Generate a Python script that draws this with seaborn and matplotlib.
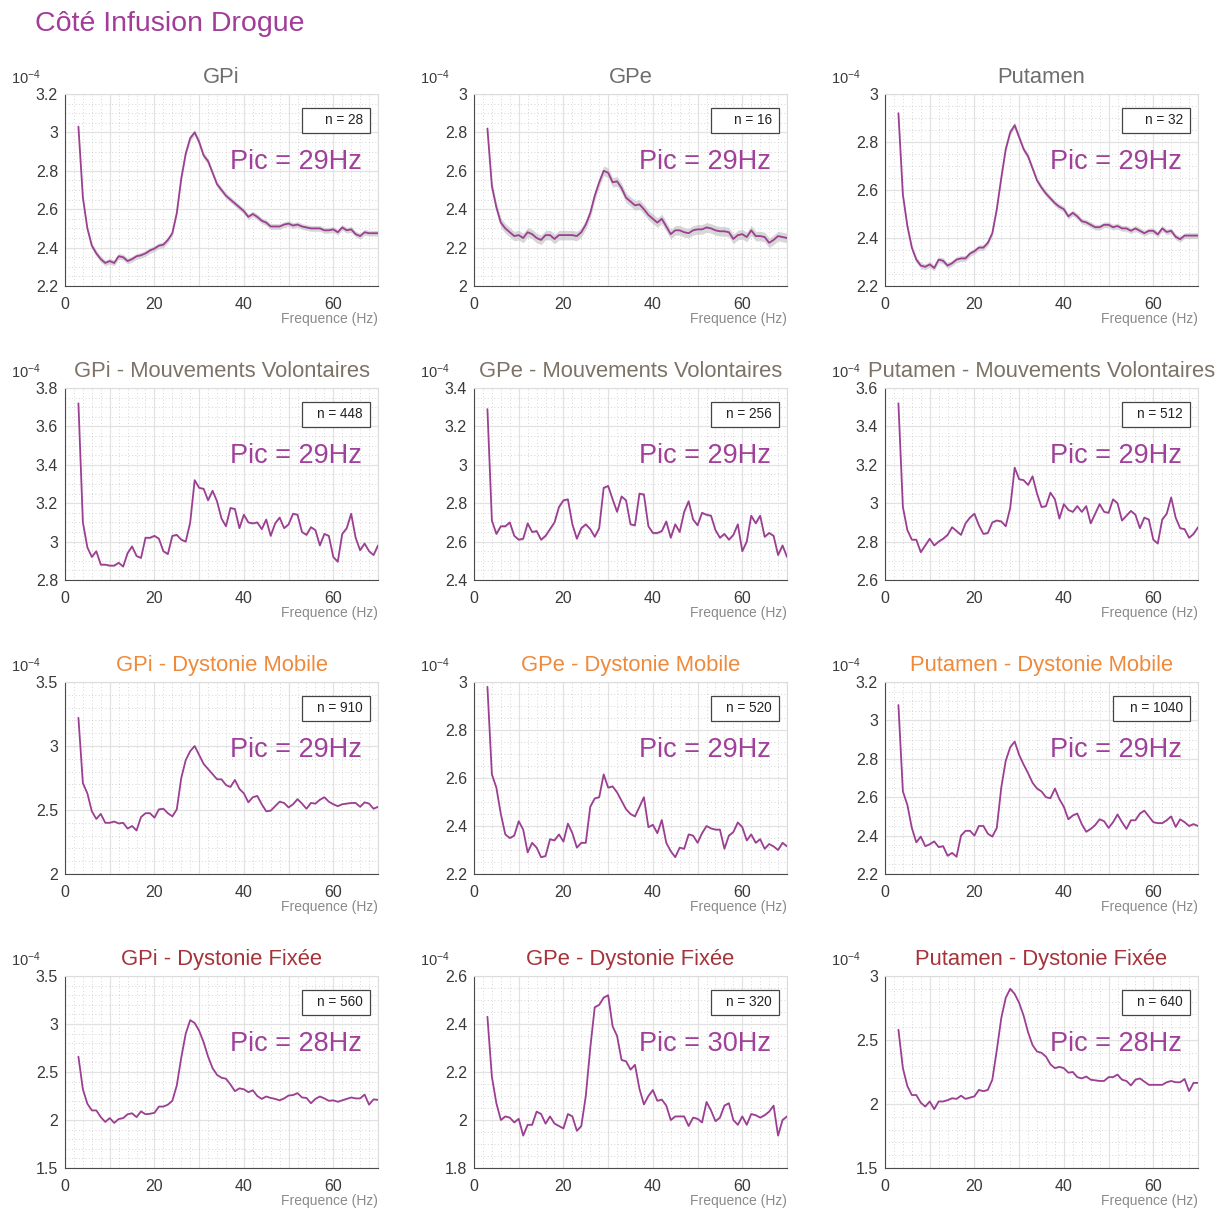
import matplotlib
matplotlib.use("Agg")
import matplotlib.pyplot as plt
import seaborn as sns
import numpy as np
import pandas as pd
from matplotlib.ticker import MultipleLocator, AutoMinorLocator, FuncFormatter
from matplotlib.patches import Rectangle

# ---------------- DATA ----------------
freqs = list(range(3, 71))

gpi = [3.03, 2.66, 2.50, 2.41, 2.37, 2.34, 2.32, 2.33, 2.32, 2.355, 2.35, 2.33, 2.34, 2.355, 2.36, 2.37,
       2.385, 2.395, 2.41, 2.415, 2.44, 2.475, 2.58, 2.76, 2.89, 2.97, 3.00, 2.95, 2.88, 2.85, 2.79, 2.73,
       2.70, 2.67, 2.65, 2.63, 2.61, 2.59, 2.56, 2.575, 2.56, 2.54, 2.53, 2.51, 2.51, 2.51, 2.52, 2.525,
       2.515, 2.52, 2.51, 2.505, 2.50, 2.50, 2.50, 2.49, 2.49, 2.495, 2.48, 2.505, 2.49, 2.495, 2.47, 2.46,
       2.48, 2.475, 2.475, 2.475]
gpe = [2.82, 2.52, 2.41, 2.33, 2.30, 2.28, 2.26, 2.265, 2.25, 2.28, 2.27, 2.25, 2.24, 2.265, 2.265, 2.245,
       2.265, 2.265, 2.265, 2.265, 2.26, 2.28, 2.32, 2.38, 2.47, 2.54, 2.60, 2.59, 2.54, 2.545, 2.51, 2.46,
       2.44, 2.42, 2.425, 2.40, 2.37, 2.35, 2.33, 2.35, 2.31, 2.27, 2.29, 2.29, 2.28, 2.275, 2.29, 2.295,
       2.295, 2.305, 2.30, 2.29, 2.285, 2.285, 2.28, 2.245, 2.265, 2.27, 2.255, 2.29, 2.26, 2.26, 2.255, 2.225,
       2.24, 2.26, 2.255, 2.25]
put = [2.92, 2.58, 2.45, 2.36, 2.31, 2.285, 2.28, 2.29, 2.275, 2.31, 2.305, 2.285, 2.295, 2.31, 2.315, 2.315,
       2.335, 2.345, 2.36, 2.36, 2.38, 2.42, 2.52, 2.65, 2.77, 2.84, 2.87, 2.82, 2.77, 2.74, 2.69, 2.64,
       2.61, 2.585, 2.565, 2.545, 2.53, 2.52, 2.49, 2.505, 2.49, 2.47, 2.465, 2.455, 2.445, 2.445, 2.455, 2.455,
       2.445, 2.45, 2.44, 2.44, 2.43, 2.44, 2.43, 2.42, 2.43, 2.43, 2.415, 2.44, 2.425, 2.43, 2.405, 2.395,
       2.41, 2.41, 2.41, 2.41]
gpi_mv = [3.72, 3.10, 2.97, 2.92, 2.95, 2.88, 2.88, 2.875, 2.875, 2.89, 2.87, 2.94, 2.975, 2.925, 2.915, 3.02,
          3.02, 3.03, 3.015, 2.95, 2.935, 3.03, 3.035, 3.01, 3.00, 3.10, 3.32, 3.28, 3.275, 3.215, 3.265, 3.21,
          3.12, 3.08, 3.175, 3.17, 3.07, 3.14, 3.10, 3.095, 3.10, 3.065, 3.115, 3.03, 3.095, 3.125, 3.07, 3.09,
          3.145, 3.14, 3.05, 3.035, 3.075, 3.06, 2.98, 3.04, 3.03, 2.92, 2.895, 3.04, 3.07, 3.145, 3.02, 2.955,
          2.99, 2.95, 2.93, 2.98]
gpe_mv = [3.29, 2.71, 2.64, 2.68, 2.68, 2.70, 2.63, 2.61, 2.615, 2.695, 2.65, 2.655, 2.61, 2.63, 2.665, 2.70,
          2.78, 2.815, 2.82, 2.69, 2.615, 2.67, 2.69, 2.665, 2.625, 2.67, 2.88, 2.89, 2.82, 2.755, 2.835, 2.815,
          2.69, 2.685, 2.85, 2.845, 2.68, 2.645, 2.645, 2.655, 2.705, 2.62, 2.69, 2.65, 2.755, 2.81, 2.715, 2.685,
          2.75, 2.74, 2.735, 2.66, 2.62, 2.64, 2.61, 2.635, 2.69, 2.55, 2.60, 2.735, 2.695, 2.735, 2.625, 2.645,
          2.63, 2.53, 2.58, 2.52]
put_mv = [3.52, 2.98, 2.86, 2.81, 2.81, 2.745, 2.78, 2.815, 2.78, 2.80, 2.815, 2.835, 2.875, 2.855, 2.835, 2.895,
          2.925, 2.945, 2.885, 2.84, 2.845, 2.90, 2.91, 2.905, 2.88, 2.975, 3.185, 3.125, 3.12, 3.095, 3.14, 3.05,
          2.98, 2.985, 3.055, 3.02, 2.92, 2.995, 2.965, 2.955, 2.985, 2.955, 2.985, 2.895, 2.945, 2.995, 2.955, 2.95,
          3.02, 3.00, 2.91, 2.935, 2.96, 2.94, 2.87, 2.925, 2.915, 2.81, 2.79, 2.915, 2.945, 3.03, 2.925, 2.87,
          2.865, 2.82, 2.84, 2.875]
gpi_dm = [3.22, 2.71, 2.63, 2.49, 2.43, 2.47, 2.40, 2.40, 2.41, 2.395, 2.40, 2.355, 2.375, 2.34, 2.445, 2.475,
          2.475, 2.44, 2.505, 2.51, 2.475, 2.45, 2.505, 2.75, 2.89, 2.96, 3.00, 2.93, 2.86, 2.82, 2.78, 2.74,
          2.74, 2.695, 2.68, 2.735, 2.665, 2.63, 2.56, 2.60, 2.61, 2.545, 2.49, 2.495, 2.53, 2.565, 2.555, 2.52,
          2.545, 2.585, 2.55, 2.51, 2.555, 2.55, 2.58, 2.60, 2.565, 2.545, 2.53, 2.545, 2.55, 2.555, 2.555, 2.525,
          2.56, 2.55, 2.51, 2.525]
gpe_dm = [2.98, 2.615, 2.56, 2.45, 2.365, 2.35, 2.36, 2.42, 2.385, 2.29, 2.33, 2.31, 2.27, 2.275, 2.345, 2.34,
          2.365, 2.335, 2.41, 2.37, 2.31, 2.33, 2.33, 2.48, 2.515, 2.52, 2.615, 2.56, 2.565, 2.54, 2.505, 2.47,
          2.45, 2.44, 2.48, 2.52, 2.395, 2.405, 2.37, 2.425, 2.33, 2.295, 2.27, 2.31, 2.305, 2.365, 2.36, 2.33,
          2.37, 2.40, 2.39, 2.385, 2.385, 2.305, 2.36, 2.375, 2.415, 2.395, 2.34, 2.365, 2.33, 2.345, 2.305, 2.325,
          2.315, 2.30, 2.33, 2.315]
put_dm = [3.08, 2.63, 2.56, 2.44, 2.365, 2.395, 2.345, 2.355, 2.37, 2.34, 2.345, 2.295, 2.31, 2.29, 2.40, 2.425,
          2.425, 2.40, 2.45, 2.45, 2.41, 2.395, 2.44, 2.65, 2.79, 2.86, 2.89, 2.82, 2.77, 2.725, 2.675, 2.645,
          2.63, 2.60, 2.595, 2.645, 2.59, 2.55, 2.485, 2.505, 2.515, 2.46, 2.42, 2.435, 2.455, 2.485, 2.475, 2.44,
          2.47, 2.51, 2.47, 2.435, 2.48, 2.48, 2.515, 2.53, 2.50, 2.47, 2.465, 2.465, 2.48, 2.50, 2.445, 2.485,
          2.47, 2.45, 2.46, 2.45]
gpi_df = [2.66, 2.32, 2.17, 2.10, 2.10, 2.03, 1.98, 2.02, 1.97, 2.01, 2.02, 2.06, 2.07, 2.03, 2.09, 2.06,
          2.065, 2.075, 2.14, 2.14, 2.16, 2.20, 2.36, 2.65, 2.90, 3.04, 3.01, 2.93, 2.81, 2.66, 2.54, 2.47,
          2.44, 2.43, 2.37, 2.30, 2.33, 2.32, 2.29, 2.31, 2.25, 2.22, 2.245, 2.23, 2.22, 2.205, 2.225, 2.255,
          2.26, 2.28, 2.235, 2.23, 2.175, 2.22, 2.245, 2.225, 2.20, 2.205, 2.19, 2.205, 2.22, 2.235, 2.225, 2.225,
          2.265, 2.16, 2.215, 2.21]
gpe_df = [2.43, 2.18, 2.07, 2.00, 2.015, 2.01, 1.99, 2.005, 1.935, 1.98, 1.98, 2.035, 2.025, 1.985, 2.015, 1.985,
          1.975, 1.965, 2.025, 2.015, 1.955, 1.975, 2.10, 2.30, 2.47, 2.48, 2.51, 2.52, 2.39, 2.35, 2.25, 2.245,
          2.21, 2.23, 2.13, 2.065, 2.10, 2.125, 2.08, 2.085, 2.06, 2.00, 2.015, 2.015, 2.015, 1.975, 2.01, 2.005,
          1.99, 2.075, 2.04, 1.995, 2.01, 2.06, 2.07, 2.00, 1.98, 2.015, 1.98, 2.025, 2.02, 2.01, 2.02, 2.035,
          2.06, 1.935, 2.00, 2.015]
put_df = [2.58, 2.28, 2.14, 2.07, 2.07, 2.01, 1.98, 2.02, 1.96, 2.02, 2.02, 2.03, 2.045, 2.04, 2.065, 2.04,
          2.05, 2.06, 2.11, 2.10, 2.11, 2.19, 2.42, 2.67, 2.83, 2.90, 2.86, 2.79, 2.69, 2.56, 2.46, 2.41,
          2.40, 2.37, 2.31, 2.28, 2.29, 2.28, 2.245, 2.25, 2.21, 2.20, 2.215, 2.19, 2.185, 2.18, 2.18, 2.21,
          2.21, 2.23, 2.19, 2.18, 2.145, 2.19, 2.20, 2.175, 2.15, 2.15, 2.15, 2.15, 2.17, 2.18, 2.17, 2.17,
          2.195, 2.10, 2.165, 2.165]

series = [gpi, gpe, put, gpi_mv, gpe_mv, put_mv, gpi_dm, gpe_dm, put_dm, gpi_df, gpe_df, put_df]
sem = [0.015, 0.025, 0.012, 0.005, 0.006, 0.004, 0.003, 0.003, 0.003, 0.003, 0.003, 0.003]

titles = ["GPi", "GPe", "Putamen",
          "GPi - Mouvements Volontaires", "GPe - Mouvements Volontaires", "Putamen - Mouvements Volontaires",
          "GPi - Dystonie Mobile", "GPe - Dystonie Mobile", "Putamen - Dystonie Mobile",
          "GPi - Dystonie Fixée", "GPe - Dystonie Fixée", "Putamen - Dystonie Fixée"]
n_labels = ["n = 28", "n = 16", "n = 32", "n = 448", "n = 256", "n = 512",
            "n = 910", "n = 520", "n = 1040", "n = 560", "n = 320", "n = 640"]
pic_labels = ["Pic = 29Hz"] * 9 + ["Pic = 28Hz", "Pic = 30Hz", "Pic = 28Hz"]
ylims = [(2.2, 3.2), (2.0, 3.0), (2.2, 3.0),
         (2.8, 3.8), (2.4, 3.4), (2.6, 3.6),
         (2.0, 3.5), (2.2, 3.0), (2.2, 3.2),
         (1.5, 3.5), (1.8, 2.6), (1.5, 3.0)]
ysteps = [0.2, 0.2, 0.2, 0.2, 0.2, 0.2, 0.5, 0.2, 0.2, 0.5, 0.2, 0.5]
xtick_labels = ["0", "", "20", "", "40", "", "60", ""]

suptitle = "Côté Infusion Drogue"
xlabel = "Frequence (Hz)"

# ---------------- STYLE ----------------
sns.set_theme(style="white")
plt.rcParams['font.family'] = ['Liberation Sans', 'DejaVu Sans']
plt.rcParams['mathtext.fontset'] = 'custom'
plt.rcParams['mathtext.rm'] = 'Liberation Sans'
plt.rcParams['mathtext.it'] = 'Liberation Sans'

line_color = "#9c3f93"
pic_color = "#a0409a"
row_title_colors = ["#6e6e6e", "#7d7266", "#ee8a3c", "#a5333a"]
tick_color = "#3a3a3a"

W, H = 1228, 1208
fig = plt.figure(figsize=(W / 100, H / 100), dpi=100)
fig.patch.set_facecolor("white")

col_left = [65, 474, 885]
row_top = [94, 388, 682, 976]
ax_w, ax_h = 313, 192

for i in range(12):
    r, c = divmod(i, 3)
    rect = [col_left[c] / W, 1 - (row_top[r] + ax_h) / H, ax_w / W, ax_h / H]
    ax = fig.add_axes(rect)
    df = pd.DataFrame({"f": freqs, "p": series[i]})
    yv = np.array(series[i])
    ax.fill_between(freqs, yv - sem[i], yv + sem[i], color="#bdbdbd", alpha=0.6, lw=0, zorder=2)
    sns.lineplot(data=df, x="f", y="p", ax=ax, color=line_color, linewidth=1.3, zorder=3)

    ax.set_xlim(0, 70)
    ax.set_ylim(*ylims[i])
    ax.xaxis.set_minor_locator(AutoMinorLocator(5))
    ax.set_xticks(range(0, 71, 10))
    ax.set_xticklabels(xtick_labels)
    ax.yaxis.set_major_locator(MultipleLocator(ysteps[i]))
    ax.yaxis.set_minor_locator(AutoMinorLocator(5 if ysteps[i] == 0.5 else 4))
    ax.yaxis.set_major_formatter(FuncFormatter(lambda v, p: f"{v:g}"))
    ax.grid(which="major", color="#e2e2e2", linewidth=0.9, linestyle="-", zorder=0)
    ax.grid(which="minor", color="#c8c8c8", linewidth=0.6, linestyle=(0, (1, 3)), zorder=0)
    ax.set_axisbelow(True)
    ax.tick_params(axis="both", which="major", labelsize=11.5, colors=tick_color,
                   direction="in", length=3, width=0.6)
    ax.tick_params(axis="x", which="major", pad=8)
    ax.tick_params(axis="y", which="major", pad=5)
    ax.tick_params(which="minor", length=0)
    for s in ["left", "bottom"]:
        ax.spines[s].set_color("#4a4a4a")
        ax.spines[s].set_linewidth(0.8)
    for s in ["top", "right"]:
        ax.spines[s].set_color("#dcdcdc")
        ax.spines[s].set_linewidth(0.8)
    ax.set_xlabel("")
    ax.set_ylabel("")
    ax.set_title(titles[i], fontsize=15.8, color=row_title_colors[r], pad=8)

    # exponent label
    ax.text(-0.172, 1.085, r"$10^{-4}$", transform=ax.transAxes, ha="left", va="center",
            fontsize=10.5, color=tick_color)
    # xlabel bottom right
    ax.text(1.0, -33 / ax_h, xlabel, transform=ax.transAxes, ha="right", va="center",
            fontsize=10, color="#8a8a8a")
    # n box
    bw = (77 if len(n_labels[i]) > 7 else 68) / ax_w
    ax.add_patch(Rectangle((1 - 8 / ax_w - bw, 1 - 39 / ax_h), bw, 25 / ax_h,
                           transform=ax.transAxes, facecolor="white", edgecolor="#444444",
                           linewidth=0.9, zorder=5))
    ax.text(1 - 15 / ax_w, 1 - 26.5 / ax_h, n_labels[i], transform=ax.transAxes,
            ha="right", va="center", fontsize=9.8, color="#222222", zorder=6)
    # peak label
    ax.text(1 - 16 / ax_w, 1 - 68 / ax_h, pic_labels[i], transform=ax.transAxes,
            ha="right", va="center", fontsize=19.5, color=pic_color, zorder=6)

fig.text(35 / W, 1 - 24 / H, suptitle, ha="left", va="center", fontsize=20.5, color="#a23c98")

fig.savefig("out.png", dpi=100, facecolor="white")
